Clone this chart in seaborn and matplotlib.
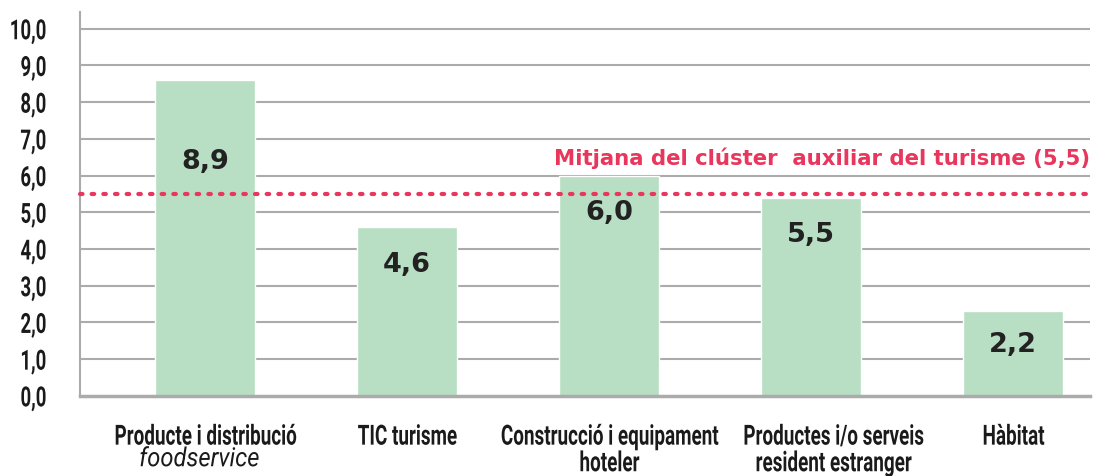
import matplotlib
matplotlib.use("Agg")
import matplotlib.pyplot as plt
import matplotlib.transforms as mtransforms
import matplotlib.patheffects as pe
from matplotlib.transforms import Affine2D, ScaledTranslation
import seaborn as sns
import pandas as pd

# ==========================================================
# DATA
# ==========================================================

categories = ["Producte i distribució", "TIC turisme", "Construcció i equipament\nhoteler",
              "Productes i/o serveis\nresident estranger", "Hàbitat"]
bar_heights = [8.6, 4.6, 6.0, 5.4, 2.3]
value_labels = ["8,9", "4,6", "6,0", "5,5", "2,2"]
label_drop = [2.2, 1.0, 1.0, 1.0, 0.9]
mean_value = 5.5
mean_text = "Mitjana del clúster  auxiliar del turisme (5,5)"
y_ticks = [0, 1, 2, 3, 4, 5, 6, 7, 8, 9, 10]
y_tick_labels = ["0,0", "1,0", "2,0", "3,0", "4,0", "5,0", "6,0", "7,0", "8,0", "9,0", "10,0"]

BAR_COLOR = "#b8dec3"
PINK = "#e8365d"
GRID = "#ababab"
TXT = "#1a1a1a"
FONT = ["Roboto", "DejaVu Sans"]


# ==========================================================
# CONDENSED TEXT (squeeze glyph paths horizontally)
# ==========================================================

class Squeeze(pe.AbstractPathEffect):
    def __init__(self, sx=0.76, anchor="center"):
        super().__init__()
        self.sx = sx
        self.anchor = anchor

    def draw_path(self, renderer, gc, tpath, affine, rgbFace=None):
        ext = tpath.get_extents()
        cx = ext.x1 if self.anchor == "right" else (ext.x0 + ext.x1) / 2
        t = Affine2D().translate(-cx, 0).scale(self.sx, 1).translate(cx, 0)
        renderer.draw_path(gc, tpath, t + affine, rgbFace)


sns.set_style("white")

df = pd.DataFrame({"cat": categories, "h": bar_heights})

fig = plt.figure(figsize=(10.96, 4.77), dpi=100)
ax = fig.add_axes([0.073, 0.168, 0.9215, 0.805])

sns.barplot(data=df, x="cat", y="h", color=BAR_COLOR, width=0.495,
            saturation=1, ax=ax, zorder=3)

ax.set_xlim(-0.62, 4.38)
ax.set_ylim(0, 10.46)
ax.set_yticks(y_ticks)
ax.set_yticklabels(y_tick_labels, fontsize=20, fontweight="bold", family=FONT, color=TXT,
                   path_effects=[Squeeze(0.67, "right")])
ax.tick_params(axis="y", length=0, pad=24)
ax.tick_params(axis="x", length=0, pad=20)

for yv in y_ticks[1:]:
    ax.axhline(yv, color=GRID, lw=1.5, zorder=1)

xlabels = list(categories)
xlabels[0] = categories[0] + "\n "
ax.set_xticks(range(len(categories)))
ax.set_xticklabels(xlabels, fontsize=20, fontweight="bold", family=FONT, color=TXT,
                   linespacing=0.98, path_effects=[Squeeze(0.68, "center")])
ax.set_xlabel("")
ax.set_ylabel("")

# the 4th label sits a bit right of its bar in the original
lbl = ax.get_xticklabels()[3]
lbl.set_transform(lbl.get_transform() + ScaledTranslation(0.22, 0, fig.dpi_scale_trans))

trans = mtransforms.blended_transform_factory(ax.transData, ax.transAxes)
ax.text(-0.03, -0.165, "foodservice", transform=trans, ha="center", va="center",
        fontsize=19, family=FONT, style="italic", color=TXT,
        path_effects=[Squeeze(0.9, "center")])

for i, (h, lab, d) in enumerate(zip(bar_heights, value_labels, label_drop)):
    ax.text(i, h - d, lab, ha="center", va="center", fontsize=19.5,
            fontweight="bold", color="#222222", zorder=5)

ax.axhline(mean_value, color=PINK, lw=3, ls=(0, (0.6, 2.2)), dash_capstyle="round",
           zorder=4, clip_on=False)
ax.text(4.38, 6.5, mean_text, ha="right", va="center", fontsize=15.3,
        fontweight="bold", color=PINK, zorder=5)

for s in ["top", "right"]:
    ax.spines[s].set_visible(False)
ax.spines["left"].set_color(GRID)
ax.spines["left"].set_linewidth(1.5)
ax.spines["bottom"].set_color(GRID)
ax.spines["bottom"].set_linewidth(2.5)
ax.spines["bottom"].set_zorder(4)

fig.savefig("out.png", dpi=100)
